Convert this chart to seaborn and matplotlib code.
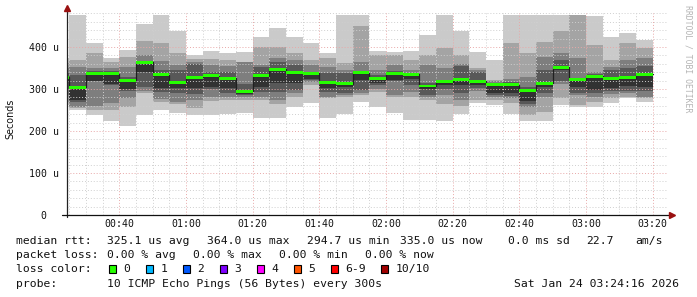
import matplotlib
matplotlib.use("Agg")
import matplotlib.pyplot as plt
import numpy as np
import pandas as pd
import seaborn as sns

# ---------------- data ----------------
window_start = 24 + 16 / 60.0          # 00:24:16 in minutes
window_len = 180.0                      # 3 hours shown
bar_starts = [window_start] + [25 + 5 * k for k in range(35)]
bar_end = 200                           # last update 03:20

p1 = [262, 250, 238, 225, 213, 238, 251, 242, 238, 238, 241, 242, 230, 230, 258, 267, 232, 240,
      270, 258, 242, 226, 226, 225, 241, 266, 262, 241, 224, 224, 262, 258, 258, 266, 278, 270]
p2 = [270, 254, 250, 250, 258, 290, 268, 265, 254, 271, 275, 274, 274, 264, 282, 310, 278, 280,
      286, 294, 280, 280, 275, 265, 260, 274, 274, 266, 238, 246, 278, 262, 270, 278, 282, 278]
p3 = [285, 258, 260, 266, 278, 295, 276, 270, 274, 282, 281, 282, 282, 274, 290, 317, 282, 285,
      290, 300, 286, 293, 280, 286, 274, 296, 280, 278, 258, 282, 313, 286, 282, 288, 290, 282]
p4 = [300, 268, 318, 309, 295, 305, 294, 290, 288, 300, 290, 285, 294, 292, 298, 321, 294, 290,
      298, 310, 318, 310, 286, 300, 290, 302, 285, 284, 265, 290, 318, 290, 290, 296, 296, 295]
p5 = [318, 274, 320, 313, 299, 341, 302, 302, 302, 304, 302, 288, 304, 314, 315, 325, 302, 304,
      321, 315, 322, 325, 299, 310, 310, 310, 290, 290, 272, 304, 345, 305, 298, 302, 306, 304]
p6 = [330, 307, 338, 338, 323, 366, 336, 318, 330, 334, 328, 297, 333, 349, 341, 339, 318, 316,
      341, 326, 339, 337, 309, 319, 324, 320, 312, 312, 299, 316, 354, 324, 332, 327, 329, 337]
p7 = [340, 333, 344, 342, 328, 367, 345, 345, 360, 341, 341, 312, 353, 365, 357, 341, 337, 339,
      343, 333, 342, 338, 315, 322, 355, 340, 314, 316, 305, 345, 369, 325, 335, 345, 349, 355]
p8 = [350, 353, 350, 349, 353, 380, 367, 357, 364, 357, 355, 365, 357, 373, 370, 357, 352, 345,
      365, 345, 357, 345, 357, 350, 360, 345, 318, 325, 329, 377, 385, 373, 341, 353, 368, 373]
p9 = [362, 369, 385, 365, 377, 415, 409, 385, 372, 371, 370, 365, 401, 401, 385, 369, 373, 361,
      450, 382, 381, 369, 381, 397, 381, 350, 322, 409, 385, 413, 439, 476, 405, 369, 410, 397]
p10 = [373, 476, 409, 373, 394, 455, 476, 437, 382, 391, 385, 389, 425, 445, 423, 409, 385, 476,
       476, 390, 389, 390, 429, 476, 438, 389, 369, 476, 476, 476, 476, 476, 474, 423, 434, 417]
median = [328, 304, 337, 336, 321, 364, 334, 316, 328, 332, 326, 294.7, 331, 347, 339, 337, 316, 313,
          339, 324, 337, 335, 307, 317, 322, 318, 310, 310, 297, 314, 352, 322, 330, 325, 327, 335]

x_ticks = [40, 60, 80, 100, 120, 140, 160, 180, 200]
x_labels = ["00:40", "01:00", "01:20", "01:40", "02:00", "02:20", "02:40", "03:00", "03:20"]
y_ticks = [0, 100, 200, 300, 400]
y_labels = ["0  ", "100 u", "200 u", "300 u", "400 u"]

loss_labels = ["0", "1", "2", "3", "4", "5", "6-9", "10/10"]
loss_colors = ["#26ff00", "#00b8ff", "#0059ff", "#7e00ff", "#ff00ff", "#ff5500", "#ff0000", "#a10000"]
smoke_greys = ["#cacaca", "#a4a4a4", "#7e7e7e", "#585858", "#323232"]

# ---------------- figure ----------------
sns.set_style("white")
plt.rcParams['font.family'] = ['DejaVu Sans Mono']

W, H = 697, 297
fig = plt.figure(figsize=(W / 100, H / 100), dpi=100)
fig.patch.set_facecolor("white")
ax = fig.add_axes([67 / W, 1 - 215 / H, 600 / W, 201.6 / H])
ax.set_facecolor("white")
ax.set_xlim(window_start, window_start + window_len)
ax.set_ylim(0, 480)

edges = bar_starts + [bar_end]
def ext(a):
    return list(a) + [a[-1]]

pings = [p1, p2, p3, p4, p5, p6, p7, p8, p9, p10]
for i, col in enumerate(smoke_greys):
    ax.fill_between(edges, ext(pings[i]), ext(pings[9 - i]), step="post",
                    color=col, lw=0, zorder=1, antialiased=False)

# grid (drawn over the smoke, as rrdtool does)
minor_c, major_c = "#cfcfcf", "#e8a8a8"
for v in range(20, 481, 20):
    ax.axhline(v, color=major_c if v % 100 == 0 else minor_c, lw=0.7,
               ls=(0, (1, 2)), zorder=2)
for t in range(25, 205, 5):
    ax.axvline(t, color=major_c if t % 20 == 0 else minor_c, lw=0.7,
               ls=(0, (1, 2)), zorder=2)

# median line + loss-coloured band
med_df = pd.DataFrame({"t": edges, "m": ext(median)})
sns.lineplot(data=med_df, x="t", y="m", drawstyle="steps-post", color="#202020",
             lw=0.9, ax=ax, zorder=3, sort=False)
med = np.array(median, dtype=float)
ax.fill_between(edges, ext(med - 3.4), ext(med + 3.6), step="post",
                color=loss_colors[0], lw=0, zorder=4)

# axes lines and arrows
for s in ax.spines.values():
    s.set_visible(False)
ax.plot([0, 0], [-0.012, 1.02], transform=ax.transAxes, color="#222222", lw=0.9,
        clip_on=False, zorder=6)
ax.plot([-0.008, 1.005], [0, 0], transform=ax.transAxes, color="#111111", lw=0.9,
        clip_on=False, zorder=6)
ax.plot([0], [1.028], marker="^", ms=4, color="#9a1010", transform=ax.transAxes,
        clip_on=False, zorder=7)
ax.plot([1.008], [0], marker=">", ms=4, color="#9a1010", transform=ax.transAxes,
        clip_on=False, zorder=7)

ax.set_xticks(x_ticks)
ax.set_xticklabels(x_labels)
ax.set_yticks(y_ticks)
ax.set_yticklabels(y_labels)
ax.tick_params(axis="x", length=0, labelsize=7.1, pad=3.2, colors="#111111")
ax.tick_params(axis="y", length=0, labelsize=7.1, pad=5.5, colors="#111111")
ax.set_xlabel("")
ax.set_ylabel("")
ax.grid(False)

def px(x, y):
    return x / W, 1 - y / H

fig.text(*px(10.7, 119), "Seconds", rotation=90, ha="center", va="center",
         fontsize=6.9, family="DejaVu Sans", color="#111111")
fig.text(*px(688.3, 5), "RRDTOOL / TOBI OETIKER", rotation=270, ha="center", va="top",
         fontsize=5.9, color="#b4b4b4")

fs = 8.2
tc = "#111111"
row1 = [(16, "median rtt:"), (107.3, "325.1 us avg"), (207.3, "364.0 us max"),
        (307.3, "294.7 us min"), (400.3, "335.0 us now"), (507.7, "0.0 ms sd"),
        (586.3, "22.7"), (635.3, "am/s")]
for x, s in row1:
    fig.text(*px(x, 241.3), s, ha="left", va="center", fontsize=fs, color=tc)
row2 = [(16, "packet loss:"), (107.3, "0.00 % avg"), (193.3, "0.00 % max"),
        (279.3, "0.00 % min"), (365.3, "0.00 % now")]
for x, s in row2:
    fig.text(*px(x, 255.3), s, ha="left", va="center", fontsize=fs, color=tc)
fig.text(*px(16, 268.7), "loss color:", ha="left", va="center", fontsize=fs, color=tc)
box_x = [108.7, 145.7, 182.7, 219.7, 256.7, 293.7, 330.7, 381.3]
for bx, lab, col in zip(box_x, loss_labels, loss_colors):
    rect = plt.Rectangle((bx / W, 1 - 272.7 / H), 7 / W, 8 / H, transform=fig.transFigure,
                         facecolor=col, edgecolor="black", lw=0.8)
    fig.patches.append(rect)
    fig.text(*px(bx + 14.5, 268.7), lab, ha="left", va="center", fontsize=fs, color=tc)
fig.text(*px(16, 283.7), "probe:", ha="left", va="center", fontsize=fs, color=tc)
fig.text(*px(107.3, 283.7), "10 ICMP Echo Pings (56 Bytes) every 300s", ha="left",
         va="center", fontsize=fs, color=tc)
fig.text(*px(513.7, 283.7), "Sat Jan 24 03:24:16 2026", ha="left", va="center",
         fontsize=fs, color=tc)

fig.savefig("out.png", dpi=100, facecolor="white")
